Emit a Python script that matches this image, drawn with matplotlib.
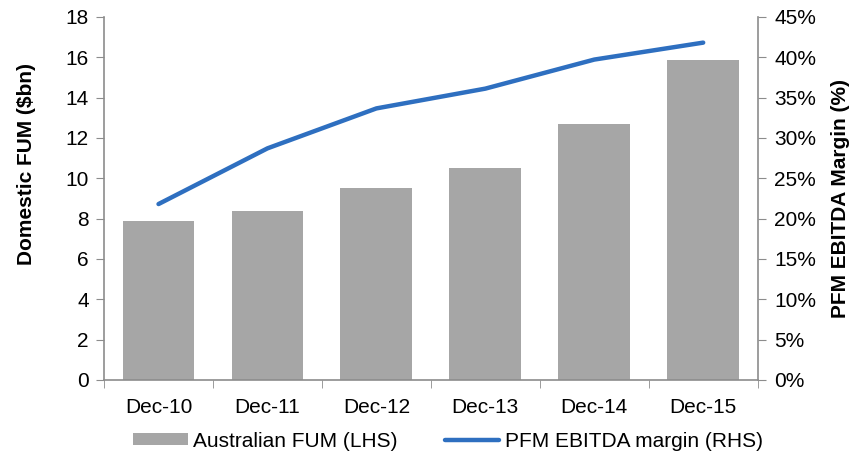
import numpy as np
import matplotlib.pyplot as plt
from matplotlib.ticker import FuncFormatter

plt.rcParams['font.family'] = ['Liberation Sans', 'DejaVu Sans']

years = ['Dec-10', 'Dec-11', 'Dec-12', 'Dec-13', 'Dec-14', 'Dec-15']
fum = [7.88, 8.36, 9.53, 10.49, 12.70, 15.86]
margin = [21.8, 28.7, 33.65, 36.1, 39.7, 41.8]

bar_col = '#a6a6a6'
line_col = '#2e6fc0'
axis_col = '#8c8c8c'

fig = plt.figure(figsize=(8.6, 4.54), dpi=100)
ax = fig.add_axes([0.121, 0.163, 0.76, 0.800])
ax2 = ax.twinx()

x = np.arange(len(years))
bars = ax.bar(x, fum, width=0.66, color=bar_col, label='Australian FUM (LHS)', zorder=2)
line, = ax2.plot(x, margin, color=line_col, lw=3.2, solid_capstyle='round',
                 label='PFM EBITDA margin (RHS)', zorder=3)

ax.set_xlim(-0.5, len(years) - 0.5)
ax.set_ylim(0, 18)
ax.set_yticks(range(0, 19, 2))
ax2.set_ylim(0, 45)
ax2.set_yticks(range(0, 46, 5))
ax2.yaxis.set_major_formatter(FuncFormatter(lambda v, p: f'{v:.0f}%'))

ax.set_xticks(x)
ax.set_xticklabels(years)
ax.set_xticks(np.arange(-0.5, len(years), 1), minor=True)
ax.tick_params(axis='x', which='major', length=0, pad=13, labelsize=15)
ax.tick_params(axis='x', which='minor', length=6, color=axis_col, direction='out')
ax.tick_params(axis='y', length=6, color=axis_col, labelsize=15, pad=5)
ax2.tick_params(axis='y', length=6, color=axis_col, labelsize=15, pad=6)

for a in (ax, ax2):
    a.spines['top'].set_visible(False)
    for s in ('left', 'right', 'bottom'):
        a.spines[s].set_color(axis_col)
        a.spines[s].set_linewidth(1.2)
ax.spines['right'].set_visible(False)
ax2.spines['left'].set_visible(False)
ax2.spines['bottom'].set_visible(False)

# axis titles placed as in the original (left one sits above centre)
fig.text(27 / 860, 1 - 164 / 454, 'Domestic FUM ($bn)', rotation=90, fontsize=15,
         fontweight='bold', ha='center', va='center')
fig.text(841 / 860, 1 - 198 / 454, 'PFM EBITDA Margin (%)', rotation=90, fontsize=15,
         fontweight='bold', ha='center', va='center')

fig.legend([bars, line], ['Australian FUM (LHS)', 'PFM EBITDA margin (RHS)'],
           loc='center', bbox_to_anchor=(0.521, 0.028), ncol=2, frameon=False,
           fontsize=15, handlelength=2.6, handleheight=0.5, handletextpad=0.25,
           columnspacing=2.3)

fig.savefig('out.png', dpi=100)
